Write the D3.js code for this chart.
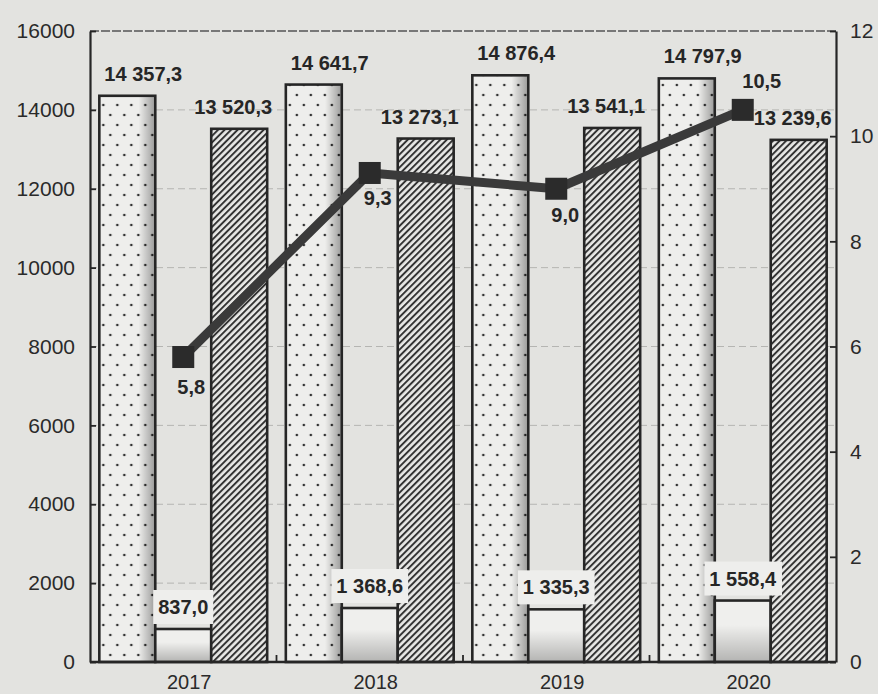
<!DOCTYPE html>
<html>
<head>
<meta charset="utf-8">
<script src="https://cdn.jsdelivr.net/npm/d3@7"></script>
<style>
  html, body { margin: 0; padding: 0; background: #e3e3e0; }
  svg { display: block; font-family: "Liberation Sans", Arial, sans-serif; }
</style>
</head>
<body>
<svg id="chart"></svg>
<script>
// data
const years = ["2017", "2018", "2019", "2020"];
const dottedVals = [14357.3, 14641.7, 14876.4, 14797.9];
const whiteVals = [837.0, 1368.6, 1335.3, 1558.4];
const hatchVals = [13520.3, 13273.1, 13541.1, 13239.6];
const lineVals = [5.8, 9.3, 9.0, 10.5];
const leftTicks = [0, 2000, 4000, 6000, 8000, 10000, 12000, 14000, 16000];
const rightTicks = [0, 2, 4, 6, 8, 10, 12];

const W = 878, H = 694;
const pLeft = 90, pRight = 836, pTop = 31, pBottom = 662;
const bg = "#e3e3e0", ink = "#262626";

const svg = d3.select("#chart").attr("width", W).attr("height", H);
svg.append("rect").attr("width", W).attr("height", H).attr("fill", bg);

const defs = svg.append("defs");
// dotted fill
const dots = defs.append("pattern").attr("id", "dots")
  .attr("patternUnits", "userSpaceOnUse").attr("width", 14).attr("height", 20);
dots.append("rect").attr("width", 14).attr("height", 20).attr("fill", "#eeeeec");
dots.append("circle").attr("cx", 4).attr("cy", 5).attr("r", 1.3).attr("fill", "#333");
dots.append("circle").attr("cx", 11).attr("cy", 15).attr("r", 1.3).attr("fill", "#333");
// hatch fill
const hatch = defs.append("pattern").attr("id", "hatch")
  .attr("patternUnits", "userSpaceOnUse").attr("width", 4.6).attr("height", 4.6)
  .attr("patternTransform", "rotate(45)");
hatch.append("rect").attr("width", 4.6).attr("height", 4.6).attr("fill", "#e8e8e6");
hatch.append("line").attr("x1", 1).attr("x2", 1).attr("y1", 0).attr("y2", 4.6)
  .attr("stroke", "#2e2e2e").attr("stroke-width", 1.9);
// shading on dotted bars (right edge) and white bars (bottom)
const gR = defs.append("linearGradient").attr("id", "shadeR");
gR.append("stop").attr("offset", "70%").attr("stop-color", "#000").attr("stop-opacity", 0);
gR.append("stop").attr("offset", "100%").attr("stop-color", "#000").attr("stop-opacity", 0.35);
const gB = defs.append("linearGradient").attr("id", "shadeB")
  .attr("x1", 0).attr("y1", 0).attr("x2", 0).attr("y2", 1);
gB.append("stop").attr("offset", "40%").attr("stop-color", "#000").attr("stop-opacity", 0);
gB.append("stop").attr("offset", "100%").attr("stop-color", "#000").attr("stop-opacity", 0.25);

const x0 = d3.scaleBand().domain(years).range([pLeft, pRight]).paddingInner(0.1).paddingOuter(0.05);
const x1 = d3.scaleBand().domain(["a", "b", "c"]).range([0, x0.bandwidth()]).padding(0);
const yL = d3.scaleLinear().domain([0, 16000]).range([pBottom, pTop]);
const yR = d3.scaleLinear().domain([0, 12]).range([pBottom, pTop]);

const fmt = d3.formatLocale({ decimal: ",", thousands: " ", grouping: [3], currency: ["", ""] }).format(",.1f");

// faint grid
svg.append("g").selectAll("line").data(leftTicks.slice(1, -1)).join("line")
  .attr("x1", pLeft).attr("x2", pRight).attr("y1", d => yL(d)).attr("y2", d => yL(d))
  .attr("stroke", "#b5b5b2").attr("stroke-width", 1).attr("stroke-dasharray", "7 4");
// top dashed frame
svg.append("line").attr("x1", pLeft).attr("x2", pRight).attr("y1", pTop).attr("y2", pTop)
  .attr("stroke", "#555").attr("stroke-width", 1.5).attr("stroke-dasharray", "9 2");

const rows = years.map((y, i) => ({ year: y, a: dottedVals[i], b: whiteVals[i], c: hatchVals[i], r: lineVals[i] }));

const groups = svg.append("g").selectAll("g").data(rows).join("g")
  .attr("transform", d => `translate(${x0(d.year)},0)`);

const bw = x1.bandwidth();
// dotted bars
groups.append("rect").attr("x", x1("a")).attr("y", d => yL(d.a))
  .attr("width", bw).attr("height", d => pBottom - yL(d.a)).attr("fill", "url(#dots)");
groups.append("rect").attr("x", x1("a")).attr("y", d => yL(d.a))
  .attr("width", bw).attr("height", d => pBottom - yL(d.a)).attr("fill", "url(#shadeR)")
  .attr("stroke", ink).attr("stroke-width", 2.6);
// white bars
groups.append("rect").attr("x", x1("b")).attr("y", d => yL(d.b))
  .attr("width", bw).attr("height", d => pBottom - yL(d.b)).attr("fill", "#efefed");
groups.append("rect").attr("x", x1("b")).attr("y", d => yL(d.b))
  .attr("width", bw).attr("height", d => pBottom - yL(d.b)).attr("fill", "url(#shadeB)")
  .attr("stroke", ink).attr("stroke-width", 2.6);
// hatched bars
groups.append("rect").attr("x", x1("c")).attr("y", d => yL(d.c))
  .attr("width", bw).attr("height", d => pBottom - yL(d.c)).attr("fill", "url(#hatch)")
  .attr("stroke", ink).attr("stroke-width", 2.6);

// bar labels
function label(sel, key, dx) {
  return sel.append("text")
    .attr("x", x1(key) + bw / 2 + dx)
    .attr("y", d => yL(d[key]) - 22)
    .attr("text-anchor", "middle").attr("dominant-baseline", "central")
    .attr("font-size", "20px").attr("font-weight", "bold").attr("fill", ink)
    .text(d => fmt(d[key]));
}
label(groups, "a", 16);
label(groups, "c", -6);
// white-bar labels sit on a light box
groups.each(function (d) {
  const g = d3.select(this);
  const t = g.append("text")
    .attr("x", x1("b") + bw / 2).attr("y", yL(d.b) - 22)
    .attr("text-anchor", "middle").attr("dominant-baseline", "central")
    .attr("font-size", "20px").attr("font-weight", "bold").attr("fill", ink)
    .text(fmt(d.b));
  const bb = t.node().getBBox();
  g.insert("rect", "text:last-of-type")
    .attr("x", bb.x - 5).attr("y", bb.y - 6).attr("width", bb.width + 10).attr("height", bb.height + 12)
    .attr("fill", "#eeeeec");
});

// line series
const cx = d => x0(d.year) + x0.bandwidth() / 2;
const line = d3.line().x(cx).y(d => yR(d.r));
svg.append("path").datum(rows).attr("d", line)
  .attr("fill", "none").attr("stroke", "#3a3a3a").attr("stroke-width", 9).attr("stroke-linejoin", "round");
svg.append("g").selectAll("rect").data(rows).join("rect")
  .attr("x", d => cx(d) - 11).attr("y", d => yR(d.r) - 11)
  .attr("width", 22).attr("height", 22).attr("fill", "#2b2b2b");
const lineLabelOff = [[8, 30], [8, 25], [9, 26], [19, -29]];
svg.append("g").selectAll("text").data(rows).join("text")
  .attr("x", (d, i) => cx(d) + lineLabelOff[i][0])
  .attr("y", (d, i) => yR(d.r) + lineLabelOff[i][1])
  .attr("text-anchor", "middle").attr("dominant-baseline", "central")
  .attr("font-size", "20px").attr("font-weight", "bold").attr("fill", ink)
  .text(d => d3.format(".1f")(d.r).replace(".", ","));

// axes
const axL = svg.append("g").attr("transform", `translate(${pLeft},0)`)
  .call(d3.axisLeft(yL).tickValues(leftTicks).tickFormat(d3.format("d"))
    .tickSizeInner(-6).tickSizeOuter(0).tickPadding(15));
const axR = svg.append("g").attr("transform", `translate(${pRight},0)`)
  .call(d3.axisRight(yR).tickValues(rightTicks).tickFormat(d3.format("d"))
    .tickSizeInner(-6).tickSizeOuter(0).tickPadding(14));
[axL, axR].forEach(a => {
  a.select(".domain").attr("stroke", ink).attr("stroke-width", 2.2);
  a.selectAll(".tick line").attr("stroke", ink).attr("stroke-width", 1.8);
  a.selectAll(".tick text").attr("font-size", "21px").attr("fill", "#2a2a2a")
    .attr("font-family", "Liberation Sans, Arial, sans-serif");
});

// bottom axis
svg.append("line").attr("x1", pLeft).attr("x2", pRight).attr("y1", pBottom).attr("y2", pBottom)
  .attr("stroke", ink).attr("stroke-width", 2.4);
svg.append("g").selectAll("line").data(years.slice(1)).join("line")
  .attr("x1", d => x0(d) - x0.step() * x0.paddingInner() / 2)
  .attr("x2", d => x0(d) - x0.step() * x0.paddingInner() / 2)
  .attr("y1", pBottom).attr("y2", pBottom - 7).attr("stroke", ink).attr("stroke-width", 1.8);
svg.append("g").selectAll("text").data(years).join("text")
  .attr("x", d => x0(d) + x0.bandwidth() / 2 + 6).attr("y", 682)
  .attr("text-anchor", "middle").attr("dominant-baseline", "central")
  .attr("font-size", "20px").attr("fill", "#2a2a2a").text(d => d);
</script>
</body>
</html>
